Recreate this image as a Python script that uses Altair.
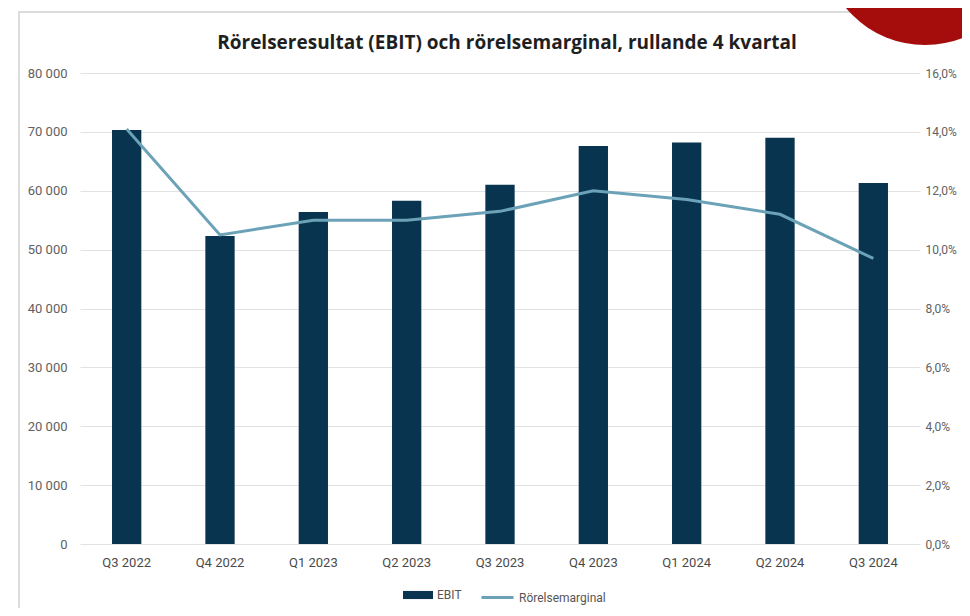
import altair as alt
import pandas as pd

quarters = ["Q3 2022", "Q4 2022", "Q1 2023", "Q2 2023", "Q3 2023",
            "Q4 2023", "Q1 2024", "Q2 2024", "Q3 2024"]
ebit = [70300, 52300, 56400, 58300, 61000, 67600, 68200, 69000, 61300]
marginal = [14.1, 10.5, 11.0, 11.0, 11.3, 12.0, 11.7, 11.2, 9.7]
left_ticks = [0, 10000, 20000, 30000, 40000, 50000, 60000, 70000, 80000]
right_ticks = [0, 2, 4, 6, 8, 10, 12, 14, 16]
title_text = "Rörelseresultat (EBIT) och rörelsemarginal, rullande 4 kvartal"

df = pd.DataFrame({
    "Kvartal": quarters,
    "EBIT": ebit,
    "marginal": marginal,
    "s1": ["EBIT"] * len(quarters),
    "s2": ["Rörelsemarginal"] * len(quarters),
})

FONT = "Roboto"
NAVY = "#08344f"
LIGHT = "#6ba2b7"

x_enc = alt.X(
    "Kvartal:N", sort=quarters,
    scale=alt.Scale(paddingInner=0.686, paddingOuter=0.343),
    axis=alt.Axis(title=None, labelAngle=0, ticks=False, domain=False,
                  labelPadding=12, labelFontSize=13, labelColor="#4a4a4a",
                  labelFont=FONT, grid=False),
)

base = alt.Chart(df)

bars = base.mark_bar().encode(
    x=x_enc,
    y=alt.Y("EBIT:Q", scale=alt.Scale(domain=[0, 80000], nice=False),
            axis=alt.Axis(title=None, values=left_ticks,
                          labelExpr="datum.value == 0 ? '0' : format(datum.value / 1000, 'd') + ' 000'",
                          ticks=False, domain=False, grid=True, gridColor="#e2e2e2",
                          gridWidth=1, labelPadding=13, labelFontSize=13,
                          labelColor="#616161", labelFont=FONT, orient="left")),
    fill=alt.Fill("s1:N", scale=alt.Scale(domain=["EBIT"], range=[NAVY]),
                  legend=alt.Legend(title=None, orient="none", legendX=323, legendY=507,
                                    symbolType="M-1,-0.27H1V0.27H-1Z", symbolSize=900,
                                    symbolStrokeWidth=0, labelFont=FONT, labelFontSize=12,
                                    labelColor="#555555", labelOffset=4)),
)

line = base.mark_line(strokeWidth=3).encode(
    x=x_enc,
    y=alt.Y("marginal:Q", scale=alt.Scale(domain=[0, 16], nice=False),
            axis=alt.Axis(title=None, values=right_ticks,
                          labelExpr="replace(format(datum.value, '.1f'), '.', ',') + '%'",
                          ticks=False, domain=False, grid=False, labelPadding=5,
                          labelFontSize=12, labelColor="#616161", labelFont=FONT,
                          orient="right")),
    stroke=alt.Stroke("s2:N", scale=alt.Scale(domain=["Rörelsemarginal"], range=[LIGHT]),
                      legend=alt.Legend(title=None, orient="none", legendX=400, legendY=507,
                                        symbolType="stroke", symbolSize=1024,
                                        symbolStrokeWidth=3, labelFont=FONT,
                                        labelFontSize=12, labelColor="#555555",
                                        labelOffset=4)),
)

one = alt.Data(values=[{"d": 1}])

frame = alt.Chart(one).mark_rect(fill=None, stroke="#dcdcdc", strokeWidth=2).encode(
    x=alt.value(-61), x2=alt.value(2000), y=alt.value(-61), y2=alt.value(2000)
)

heading = alt.Chart(one).mark_text(
    text=title_text, font="Open Sans", fontSize=19, fontWeight="bold", color="#1f1f1f",
    align="center", baseline="alphabetic"
).encode(x=alt.value(427), y=alt.value(-24))

badge = alt.Chart(one).mark_point(shape="circle", filled=True, size=42436,
                                  color="#a50d0d", opacity=1).encode(
    x=alt.value(845), y=alt.value(-131)
)

chart = alt.layer(frame, bars, line, heading, badge).resolve_scale(
    y="independent"
).properties(
    width=840, height=471,
    autosize=alt.AutoSizeParams(type="none"),
    padding={"left": 72, "top": 65, "right": 42, "bottom": 64},
    background="white",
).configure_view(stroke=None)

chart.save("out.html", embed_options={"renderer": "svg", "actions": False})
